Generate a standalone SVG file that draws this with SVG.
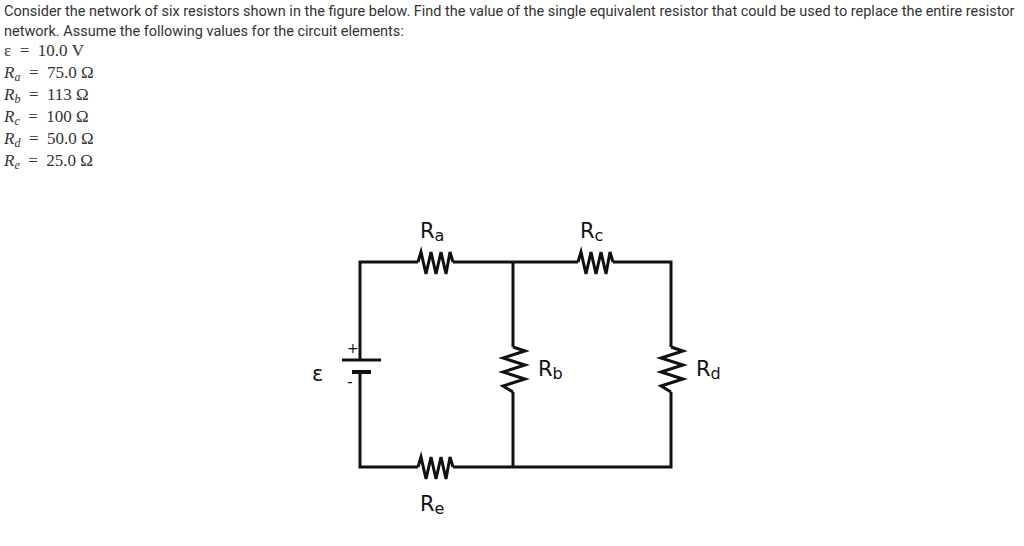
<svg xmlns="http://www.w3.org/2000/svg" width="1024" height="546" viewBox="0 0 1024 546">
<style>
.t{font-family:Roboto,"Liberation Sans",sans-serif;font-size:14.5px;fill:#333}
.m{font-family:"Liberation Serif",serif;font-size:17px;fill:#333;white-space:pre}
.w{fill:none;stroke:#111;stroke-width:3;stroke-linejoin:miter}
.l{font-family:"DejaVu Sans",sans-serif;font-size:21px;fill:#111}
.s{font-size:16px}
</style>
<rect width="1024" height="546" fill="#fff"/>
<text class="t" x="4" y="16">Consider the network of six resistors shown in the figure below.  Find the value of the single equivalent resistor that could be used to replace the entire resistor</text>
<text class="t" x="4" y="36">network. Assume the following values for the circuit elements:</text>
<text class="m" x="4" y="56" xml:space="preserve">ε  =  10.0 V</text>
<text class="m" x="4" y="78" xml:space="preserve"><tspan font-style="italic">R</tspan><tspan font-style="italic" font-size="12" dy="3">a</tspan><tspan dy="-3">  =  75.0 Ω</tspan></text>
<text class="m" x="4" y="100" xml:space="preserve"><tspan font-style="italic">R</tspan><tspan font-style="italic" font-size="12" dy="3">b</tspan><tspan dy="-3">  =  113 Ω</tspan></text>
<text class="m" x="4" y="122" xml:space="preserve"><tspan font-style="italic">R</tspan><tspan font-style="italic" font-size="12" dy="3">c</tspan><tspan dy="-3">  =  100 Ω</tspan></text>
<text class="m" x="4" y="144" xml:space="preserve"><tspan font-style="italic">R</tspan><tspan font-style="italic" font-size="12" dy="3">d</tspan><tspan dy="-3">  =  50.0 Ω</tspan></text>
<text class="m" x="4" y="166" xml:space="preserve"><tspan font-style="italic">R</tspan><tspan font-style="italic" font-size="12" dy="3">e</tspan><tspan dy="-3">  =  25.0 Ω</tspan></text>
<g id="connectors">
<path class="w" d="M360 360 V262 H418 M453 262 H578 M613 262 H671 V347 M671 392 V467 H513 M513 262 V347 M513 392 V467 M453 467 H513 M418 467 H360 V372"/>
</g>
<g id="Ra"><path class="w" d="M418 262 L421 252 L426 274 L431 252 L436 274 L441 252 L446 274 L450 252 L453 262"/><text class="l" x="420" y="238">R<tspan class="s" dy="3">a</tspan></text></g>
<g id="Rc"><path class="w" d="M578 262 L581 252 L586 274 L591 252 L596 274 L601 252 L606 274 L610 252 L613 262"/><text class="l" x="580" y="238">R<tspan class="s" dy="3">c</tspan></text></g>
<g id="Re"><path class="w" d="M418 467 L421 457 L426 479 L431 457 L436 479 L441 457 L446 479 L450 457 L453 467"/><text class="l" x="420" y="511">R<tspan class="s" dy="3">e</tspan></text></g>
<g id="Rb"><path class="w" d="M513 347 L525 351 L503 358 L525 365 L503 372 L525 379 L503 386 L513 392"/><text class="l" x="538" y="376">R<tspan class="s" dy="3">b</tspan></text></g>
<g id="Rd"><path class="w" d="M671 347 L683 351 L661 358 L683 365 L661 372 L683 379 L661 386 L671 392"/><text class="l" x="696" y="376">R<tspan class="s" dy="3">d</tspan></text></g>
<g id="battery">
<path class="w" d="M342 360 H381"/><path d="M352 372 H371" stroke="#111" stroke-width="4"/>
<text x="347" y="353" font-family="DejaVu Sans,sans-serif" font-size="14" fill="#111">+</text>
<text x="347" y="387" font-family="DejaVu Sans,sans-serif" font-size="16" fill="#111">-</text>
<text class="l" x="312" y="381">ε</text>
</g>
</svg>
